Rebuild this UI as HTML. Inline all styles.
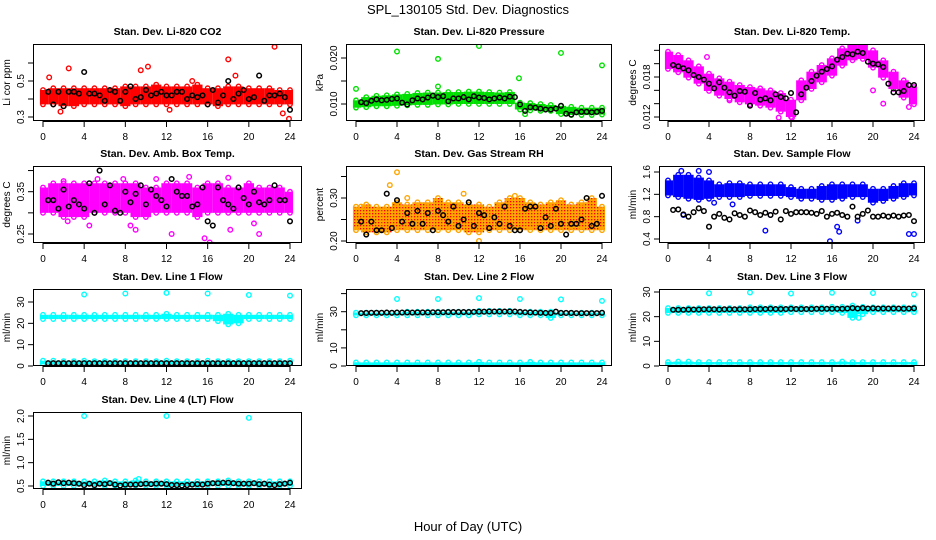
<!DOCTYPE html>
<html><head><meta charset="utf-8">
<style>
html,body{margin:0;padding:0;background:#fff;}
svg{display:block;font-family:"Liberation Sans",Arial,sans-serif;}
</style></head>
<body>
<svg id="chart" width="936" height="540" viewBox="0 0 936 540">
<defs>
<pattern id="rhpat" width="3" height="3" patternUnits="userSpaceOnUse">
<rect width="3" height="3" fill="#ffa500"/><rect x="0" y="0" width="1.3" height="1.3" fill="#ff0000"/>
</pattern>
</defs>
<text x="468" y="14" text-anchor="middle" font-size="13">SPL_130105  Std. Dev. Diagnostics</text>
<text x="468" y="531" text-anchor="middle" font-size="13">Hour of Day (UTC)</text>
<g id="plots"></g>
</svg>
<script>
const hours = [0,4,8,12,16,20,24];
// CO2
const co2Lo = [0.37,0.37,0.36,0.36,0.37,0.37,0.37,0.37,0.36,0.37,0.37,0.37,0.37,0.37,0.37,0.37,0.37,0.36,0.37,0.37,0.37,0.37,0.37,0.37,0.37];
const co2Hi = [0.45,0.46,0.46,0.46,0.46,0.46,0.46,0.46,0.47,0.47,0.47,0.48,0.47,0.47,0.47,0.48,0.46,0.46,0.47,0.47,0.46,0.46,0.46,0.45,0.45];
const co2Blk = [0.44,0.37,0.44,0.36,0.44,0.44,0.43,0.55,0.43,0.43,0.42,0.39,0.45,0.44,0.39,0.44,0.47,0.40,0.41,0.45,0.42,0.43,0.44,0.42,0.42,0.44,0.44,0.40,0.42,0.41,0.42,0.37,0.45,0.38,0.42,0.50,0.40,0.43,0.45,0.40,0.41,0.53,0.39,0.42,0.42,0.43,0.41,0.34];
const co2OutX = [0.6,2.5,10.2,18,22.5,23.9,1.7,12.3,9.5,18.7,14.5,23.3];
const co2OutY = [0.52,0.57,0.58,0.62,0.69,0.29,0.33,0.34,0.56,0.53,0.50,0.32];
// Pressure
const presLo = [0.0092,0.0093,0.0095,0.0095,0.0096,0.0097,0.0098,0.0098,0.0099,0.0099,0.0100,0.0100,0.0100,0.0100,0.0100,0.0100,0.0088,0.0086,0.0085,0.0085,0.0078,0.0076,0.0076,0.0076,0.0077];
const presHi = [0.0108,0.0115,0.0118,0.0119,0.0121,0.0122,0.0124,0.0125,0.0125,0.0126,0.0126,0.0127,0.0127,0.0126,0.0125,0.0126,0.0103,0.0102,0.0100,0.0098,0.0096,0.0094,0.0092,0.0092,0.0092];
const presBlk = [0.0104,0.0102,0.0107,0.0110,0.0108,0.0109,0.0111,0.0112,0.0103,0.0099,0.0108,0.0112,0.0110,0.0114,0.0118,0.0115,0.0117,0.0106,0.0112,0.0112,0.0115,0.0110,0.0117,0.0114,0.0113,0.0110,0.0112,0.0114,0.0112,0.0116,0.0115,0.0099,0.0085,0.0093,0.0092,0.0090,0.0088,0.0088,0.0090,0.0096,0.0079,0.0077,0.0082,0.0083,0.0083,0.0082,0.0083,0.0085];
const presOutX = [0,4,8,12,20,24,15.9,8,16.5];
const presOutY = [0.0133,0.0214,0.0198,0.0226,0.0211,0.0184,0.0156,0.0138,0.0078];
// Li-820 temp
const tempLo = [0.0192,0.0187,0.0179,0.0170,0.0159,0.0152,0.0147,0.0142,0.0139,0.0137,0.0134,0.0128,0.0120,0.0145,0.0162,0.0172,0.0182,0.0197,0.0205,0.0207,0.0194,0.0179,0.0162,0.0149,0.0139];
const tempHi = [0.0218,0.0213,0.0205,0.0196,0.0185,0.0178,0.0173,0.0168,0.0165,0.0163,0.0160,0.0156,0.0146,0.0175,0.0188,0.0198,0.0208,0.0223,0.0228,0.0228,0.0220,0.0205,0.0188,0.0175,0.0165];
const tempBlk = [0.0198,0.0196,0.0193,0.0190,0.0183,0.0180,0.0176,0.0170,0.0163,0.0172,0.0164,0.0157,0.0152,0.0159,0.0158,0.0137,0.0156,0.0146,0.0148,0.0145,0.0154,0.0150,0.0148,0.0156,0.0127,0.0154,0.0164,0.0174,0.0182,0.0188,0.0192,0.0196,0.0206,0.0210,0.0215,0.0214,0.0218,0.0216,0.0203,0.0200,0.0199,0.0195,0.0170,0.0157,0.0157,0.0159,0.0168,0.0168];
const tempOutX = [10.8,12.1,21,20,23.5,3.8,6];
const tempOutY = [0.0119,0.0119,0.0140,0.0160,0.0135,0.0210,0.0145];
// Amb box temp
const ambLo = [0.30,0.30,0.29,0.29,0.29,0.30,0.30,0.30,0.30,0.29,0.29,0.30,0.30,0.30,0.30,0.29,0.30,0.30,0.30,0.30,0.30,0.30,0.30,0.30,0.30];
const ambHi = [0.36,0.37,0.37,0.37,0.37,0.37,0.37,0.37,0.37,0.37,0.36,0.36,0.37,0.37,0.37,0.36,0.37,0.37,0.36,0.36,0.37,0.36,0.36,0.36,0.35];
const ambBlk = [0.33,0.33,0.31,0.355,0.315,0.33,0.32,0.31,0.37,0.30,0.40,0.32,0.365,0.305,0.30,0.35,0.325,0.345,0.365,0.32,0.355,0.34,0.33,0.315,0.38,0.35,0.34,0.34,0.315,0.32,0.36,0.28,0.27,0.36,0.33,0.32,0.31,0.36,0.335,0.32,0.35,0.325,0.32,0.33,0.365,0.33,0.33,0.28];
const ambOutX = [2,7.8,5.3,4.5,12.5,15.7,16.2,18.2,9,21,2.4,14.2,11,18,8.5,20.5];
const ambOutY = [0.375,0.38,0.38,0.27,0.25,0.24,0.23,0.26,0.26,0.25,0.28,0.385,0.38,0.383,0.27,0.275];
// Gas stream RH
const rhLo = [0.225,0.22,0.22,0.22,0.225,0.225,0.225,0.225,0.225,0.225,0.225,0.22,0.22,0.225,0.225,0.225,0.225,0.225,0.225,0.225,0.225,0.225,0.225,0.225,0.225];
const rhHi = [0.28,0.285,0.28,0.28,0.29,0.285,0.29,0.29,0.30,0.29,0.29,0.285,0.285,0.28,0.29,0.30,0.30,0.29,0.285,0.29,0.295,0.285,0.29,0.30,0.28];
const rhBlk = [0.245,0.215,0.245,0.225,0.225,0.31,0.23,0.295,0.245,0.265,0.24,0.27,0.24,0.265,0.225,0.27,0.26,0.245,0.28,0.235,0.25,0.29,0.235,0.265,0.26,0.23,0.255,0.24,0.28,0.235,0.225,0.225,0.275,0.28,0.28,0.23,0.255,0.235,0.275,0.24,0.215,0.24,0.24,0.25,0.30,0.235,0.24,0.305];
const rhOutX = [4,3.3,12,15.5,10.5,5,0.5];
const rhOutY = [0.36,0.33,0.20,0.305,0.31,0.30,0.28];
// Sample flow
const sfLo = [1.18,1.15,1.12,1.10,1.12,1.15,1.15,1.15,1.17,1.17,1.17,1.17,1.15,1.12,1.12,1.10,1.10,1.12,1.15,1.15,1.05,1.08,1.12,1.15,1.18];
const sfHi = [1.45,1.55,1.55,1.50,1.45,1.38,1.40,1.40,1.38,1.38,1.38,1.38,1.33,1.30,1.30,1.35,1.38,1.38,1.38,1.38,1.30,1.30,1.35,1.40,1.40];
const sfBlk = [0.92,0.93,0.84,0.80,0.88,0.95,0.90,0.62,0.80,0.85,0.78,0.75,0.86,0.83,0.80,0.91,0.88,0.83,0.87,0.83,0.89,0.75,0.90,0.85,0.88,0.88,0.88,0.87,0.85,0.90,0.80,0.85,0.87,0.83,0.80,0.98,0.80,0.85,0.91,0.80,0.80,0.82,0.80,0.82,0.80,0.82,0.83,0.72];
const sfOutX = [9.5,15.8,16.5,16.7,23.5,24,3,4,1.3,1.5,6.3,18.5,10,4.5];
const sfOutY = [0.55,0.36,0.62,0.53,0.49,0.49,1.62,1.60,1.62,0.83,1.02,0.73,0.83,1.05];
// Line 1 flow
const l1Lo = [22,22,22,22,22,22,22,22,22,22,22,22,22,22,22,22,22,21,19.5,20,22,22,22,22,22];
const l1Hi = [24,24,24,24,24,24,24,24,24,24,24,24,24.5,24,24,24,24,24,24.5,24,24,24,24,24,24];
const l1Lo2 = [0.8,0.8,0.8,0.8,0.8,0.8,0.8,0.8,0.8,0.8,0.8,0.8,0.8,0.8,0.8,0.8,0.8,0.8,0.8,0.8,0.8,0.8,0.8,0.8,0.8];
const l1Hi2 = [2.5,2.5,2.3,2.3,2.5,2.3,2.3,2.3,2.3,2.3,2.3,2.3,2.5,2.3,2.3,2.3,2.5,2.3,2.3,2.3,2.3,2.3,2.3,2.3,2.5];
const l1Blk = [1.3,1.3,1.3,1.3,1.3,1.3,1.3,1.3,1.3,1.3,1.3,1.3,1.3,1.3,1.3,1.3,1.3,1.3,1.3,1.3,1.3,1.3,1.3,1.3,1.3,1.3,1.3,1.3,1.3,1.3,1.3,1.3,1.3,1.3,1.3,1.3,1.3,1.3,1.3,1.3,1.3,1.3,1.3,1.3,1.3,1.3,1.3,1.3];
const l1OutX = [4,8,12,16,20,24];
const l1OutY = [33.5,34,34.3,34,33.3,33];
// Line 2 flow
const l2Lo = [28,28,28,28,28,28,28,28,28,28,28,28,28.5,28.5,28.5,28.5,28,28,28,26.5,28,28,28,28,28];
const l2Hi = [29.5,29.5,29.5,29.5,29.5,30,30,30,30,30,30,30,30.5,30.5,30.5,30.5,30,30,30,30,29.5,29.5,29.5,29.5,29.5];
const l2Lo2 = [0.5,0.5,0.5,0.5,0.5,0.5,0.5,0.5,0.5,0.5,0.5,0.5,0.5,0.5,0.5,0.5,0.5,0.5,0.5,0.5,0.5,0.5,0.5,0.5,0.5];
const l2Hi2 = [2,2,2,2,2,2,2,2,2,2,2,2,2.3,2,2,2,2,2.3,2,2,2,2,2,2,2];
const l2Blk = [29.2,29.3,29.4,29.4,29.4,29.5,29.4,29.5,29.5,29.6,29.5,29.6,29.6,29.6,29.7,29.7,29.7,29.8,29.8,29.8,29.8,29.8,29.9,30.0,30.0,30.1,30.1,30.1,30.1,30.1,30.1,29.9,29.7,29.6,29.5,29.4,29.3,29.3,30.0,29.3,29.3,29.3,29.2,29.2,29.2,29.2,29.2,29.4];
const l2OutX = [4,8,12,16,20,24];
const l2OutY = [37,37,37.5,37,36.8,36];
// Line 3 flow
const l3Lo = [21.5,21.5,21.5,21.5,21.5,21.5,21.5,21.5,21.5,21.5,21.5,21.5,21.8,21.8,21.8,21.8,21.8,21.5,19.5,21,21.8,21.8,21.8,21.8,21.8];
const l3Hi = [23.5,23.5,23.5,23.5,23.5,23.5,23.5,23.5,23.8,23.8,23.8,23.8,23.8,23.8,23.8,23.8,24,24,24.5,24,23.8,23.8,23.8,23.8,23.8];
const l3Lo2 = [0.6,0.6,0.6,0.6,0.6,0.6,0.6,0.6,0.6,0.6,0.6,0.6,0.6,0.6,0.6,0.6,0.6,0.6,0.6,0.6,0.6,0.6,0.6,0.6,0.6];
const l3Hi2 = [1.6,1.8,1.8,1.6,1.6,1.6,1.6,1.6,1.6,1.6,1.6,1.6,1.6,1.6,1.6,1.6,1.6,1.8,1.6,1.6,1.6,1.6,1.6,1.6,1.6];
const l3Blk = [22.8,22.8,22.8,22.9,22.9,22.9,23.0,23.0,23.0,22.9,23.0,23.0,23.0,23.0,23.0,23.0,23.1,23.1,23.1,23.2,23.1,23.1,23.1,23.2,23.1,23.1,23.1,23.1,23.2,23.2,23.2,23.2,23.2,23.2,23.3,23.5,23.3,23.5,23.3,23.4,23.3,23.3,23.3,23.3,23.3,23.2,23.3,23.4];
const l3OutX = [4,8,12,16,20,24,18.6];
const l3OutY = [29.5,29.8,29.4,29.7,29.6,29,19.5];
// Line 4 flow
const l4Lo = [0.5,0.5,0.5,0.5,0.5,0.5,0.5,0.5,0.5,0.5,0.5,0.5,0.5,0.5,0.5,0.5,0.5,0.5,0.5,0.5,0.5,0.5,0.5,0.5,0.5];
const l4Hi = [0.6,0.6,0.6,0.6,0.6,0.6,0.62,0.6,0.6,0.62,0.6,0.6,0.6,0.6,0.6,0.6,0.6,0.6,0.62,0.6,0.6,0.6,0.6,0.6,0.6];
const l4Blk = [0.57,0.55,0.58,0.56,0.57,0.56,0.55,0.52,0.55,0.52,0.55,0.54,0.56,0.53,0.51,0.53,0.53,0.53,0.54,0.55,0.54,0.55,0.55,0.54,0.52,0.52,0.51,0.52,0.53,0.54,0.53,0.55,0.56,0.56,0.57,0.57,0.56,0.55,0.55,0.55,0.56,0.54,0.55,0.53,0.52,0.54,0.55,0.57];
const l4OutX = [4,12,20,9.3];
const l4OutY = [2.0,2.0,1.96,0.65];

const NS = 'http://www.w3.org/2000/svg';
const root = document.getElementById('plots');
function mk(tag, attrs, parent){const e=document.createElementNS(NS,tag);for(const k in attrs)e.setAttribute(k,attrs[k]);(parent||root).appendChild(e);return e;}

const colL=[33,346,659], colR=[302,612,925], x0=[43,356,668], x24=[290,602,914];
const rowT=[44,166,289,412], rowB=[121,243,366,489];

const panels = [
 {id:'co2',title:'Stan. Dev. Li-820 CO2',yl:'Li cor ppm',c:0,r:0,va:0.3,pa:117,vb:0.5,pb:81,ticks:[0.3,0.4,0.5,0.6],labs:['0.3','','0.5',''],col:'#ff0000',bands:[[co2Lo,co2Hi]],blk:co2Blk,ox:co2OutX,oy:co2OutY},
 {id:'pressure',title:'Stan. Dev. Li-820 Pressure',yl:'kPa',c:1,r:0,va:0.010,pa:104,vb:0.020,pb:58,ticks:[0.010,0.015,0.020],labs:['0.010','','0.020'],col:'#00e000',bands:[[presLo,presHi]],blk:presBlk,ox:presOutX,oy:presOutY},
 {id:'li820-temp',title:'Stan. Dev. Li-820 Temp.',yl:'degrees C',c:2,r:0,va:0.012,pa:117,vb:0.018,pb:77,ticks:[0.012,0.014,0.016,0.018,0.020,0.022],labs:['0.012','','','0.018','',''],col:'#ff00ff',bands:[[tempLo,tempHi]],blk:tempBlk,ox:tempOutX,oy:tempOutY},
 {id:'amb-box-temp',title:'Stan. Dev. Amb. Box Temp.',yl:'degrees C',c:0,r:1,va:0.25,pa:234,vb:0.35,pb:191.7,ticks:[0.25,0.30,0.35,0.40],labs:['0.25','','0.35',''],col:'#ff00ff',bands:[[ambLo,ambHi]],blk:ambBlk,ox:ambOutX,oy:ambOutY},
 {id:'gas-stream-rh',title:'Stan. Dev. Gas Stream RH',yl:'percent',c:1,r:1,va:0.20,pa:241,vb:0.30,pb:198,ticks:[0.20,0.25,0.30,0.35],labs:['0.20','','0.30',''],col:'#ffa500',fill:'url(#rhpat)',bands:[[rhLo,rhHi]],blk:rhBlk,ox:rhOutX,oy:rhOutY},
 {id:'sample-flow',title:'Stan. Dev. Sample Flow',yl:'ml/min',c:2,r:1,va:0.4,pa:239,vb:1.6,pb:172,ticks:[0.4,0.8,1.2,1.6],labs:['0.4','0.8','1.2','1.6'],col:'#0000ff',bands:[[sfLo,sfHi]],blk:sfBlk,ox:sfOutX,oy:sfOutY},
 {id:'line1-flow',title:'Stan. Dev. Line 1 Flow',yl:'ml/min',c:0,r:2,va:0,pa:366,vb:30,pb:302,ticks:[0,10,20,30],labs:['0','10','20','30'],col:'#00ffff',bands:[[l1Lo,l1Hi],[l1Lo2,l1Hi2]],blk:l1Blk,ox:l1OutX,oy:l1OutY},
 {id:'line2-flow',title:'Stan. Dev. Line 2 Flow',yl:'ml/min',c:1,r:2,va:0,pa:366,vb:30,pb:311.7,ticks:[0,10,20,30,40],labs:['0','10','','30',''],col:'#00ffff',bands:[[l2Lo,l2Hi],[l2Lo2,l2Hi2]],blk:l2Blk,ox:l2OutX,oy:l2OutY},
 {id:'line3-flow',title:'Stan. Dev. Line 3 Flow',yl:'ml/min',c:2,r:2,va:0,pa:366,vb:30,pb:292,ticks:[0,10,20,30],labs:['0','10','20','30'],col:'#00ffff',bands:[[l3Lo,l3Hi],[l3Lo2,l3Hi2]],blk:l3Blk,ox:l3OutX,oy:l3OutY},
 {id:'line4-flow',title:'Stan. Dev. Line 4 (LT) Flow',yl:'ml/min',c:0,r:3,va:0.5,pa:486,vb:2.0,pb:416,ticks:[0.5,1.0,1.5,2.0],labs:['0.5','1.0','1.5','2.0'],col:'#00ffff',bands:[[l4Lo,l4Hi]],blk:l4Blk,ox:l4OutX,oy:l4OutY}
];

panels.forEach(p=>{
  const L=colL[p.c],R=colR[p.c],T=rowT[p.r],B=rowB[p.r];
  const X=v=>x0[p.c]+(x24[p.c]-x0[p.c])*v/24;
  const Y=v=>p.pa+(p.pb-p.pa)*(v-p.va)/(p.vb-p.va);
  const g=mk('g',{});
  
  
  const t=mk('text',{x:(L+R)/2,y:T-9,'text-anchor':'middle','font-size':'10.5','font-weight':'bold'},g);
  t.textContent=p.title;
  
  
  const clipId='clip-'+p.id;
  const cp=mk('clipPath',{id:clipId},g); mk('rect',{x:L,y:T,width:R-L,height:B-T},cp);
  const marks=mk('g',{'clip-path':'url(#'+clipId+')'},g);
  
  
  p.bands.forEach((bd,bi)=>{
    const lo=bd[0],hi=bd[1];
    for(let h=0;h<lo.length;h++){
      const xa=X(Math.max(-0.3,h-0.5)),xb=X(Math.min(24.3,h+0.5));
      const r=mk('rect',{x:xa,y:Y(hi[h]),width:xb-xa,height:Math.max(1,Y(lo[h])-Y(hi[h])),fill:p.fill||p.col},marks);
      
      
      [lo[h],hi[h]].forEach(v=>{
        const c=mk('circle',{cx:X(h),cy:Y(v),r:2.2,fill:'none',stroke:p.col,'stroke-width':1.4},marks);
        
        
      });
    }
  });
  p.ox.forEach((xv,i)=>{
    const c=mk('circle',{cx:X(xv),cy:Y(p.oy[i]),r:2.3,fill:'none',stroke:p.col,'stroke-width':1.4},marks);
    
    
  });
  p.blk.forEach((v,i)=>{
    const c=mk('circle',{cx:X(0.5*(i+1)),cy:Y(v),r:2.3,fill:'none',stroke:'#000','stroke-width':1.5},marks);
    
    
  });
  const box=mk('rect',{x:L+0.5,y:T+0.5,width:R-L-1,height:B-T-1,fill:'none',stroke:'#000','stroke-width':1},g);
  
  
  const xa=mk('g',{},g);
  
  
  mk('line',{x1:X(0),x2:X(24),y1:B+0.5,y2:B+0.5,stroke:'#000'},xa);
  hours.forEach(h=>{
    mk('line',{x1:X(h),x2:X(h),y1:B,y2:B+6,stroke:'#000'},xa);
    const tl=mk('text',{x:X(h),y:B+19,'text-anchor':'middle','font-size':'10'},xa);
    tl.textContent=String(h);
    
    
  });
  const ya=mk('g',{},g);
  
  
  const tks=p.ticks;
  mk('line',{x1:L+0.5,x2:L+0.5,y1:Y(tks[0]),y2:Y(tks[tks.length-1]),stroke:'#000'},ya);
  tks.forEach((v,i)=>{
    const yy=Y(v);
    mk('line',{x1:L-5,x2:L,y1:yy,y2:yy,stroke:'#000'},ya);
    if(p.labs[i]){
      const tl=mk('text',{x:L-9,y:yy,'text-anchor':'middle','font-size':'10',transform:'rotate(-90 '+(L-9)+' '+yy+')'},ya);
      tl.textContent=p.labs[i];
      
      
    }
  });
  const yt=mk('text',{x:L-23,y:(T+B)/2,'text-anchor':'middle','font-size':'10',transform:'rotate(-90 '+(L-23)+' '+((T+B)/2)+')'},g);
  yt.textContent=p.yl;
  
  
});
</script>
</body></html>
